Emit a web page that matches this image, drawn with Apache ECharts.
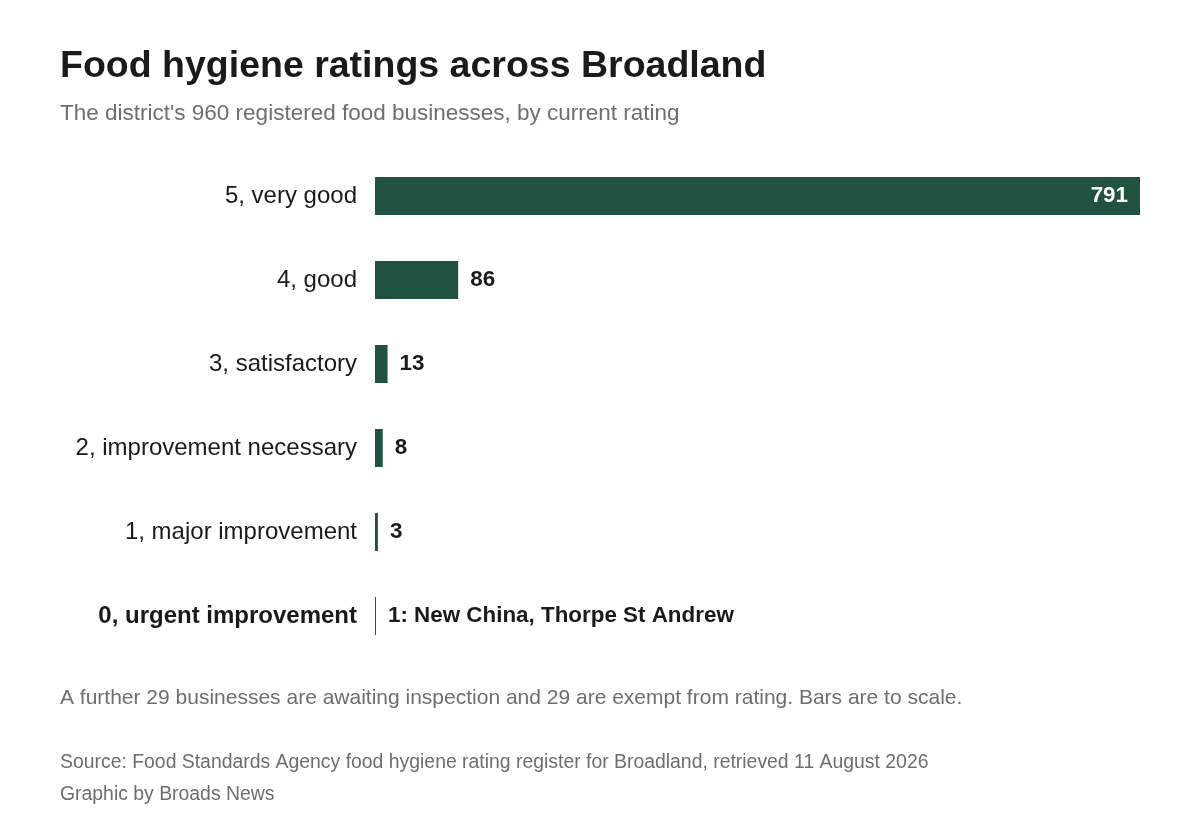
<!DOCTYPE html>
<html>
<head>
<meta charset="utf-8">
<script src="https://cdn.jsdelivr.net/npm/echarts@6/dist/echarts.min.js"></script>
<style>
  html, body { margin: 0; padding: 0; background: #fff; }
  #chart { width: 1200px; height: 840px; }
</style>
</head>
<body>
<div id="chart"></div>
<script>
// ratings, top to bottom
const ratings = ['5, very good', '4, good', '3, satisfactory', '2, improvement necessary', '1, major improvement', '0, urgent improvement'];
const counts = [791, 86, 13, 8, 3, 1];
const valueLabels = ['791', '86', '13', '8', '3', '1: New China, Thorpe St Andrew'];

const FONT = '"Liberation Sans", Arial, sans-serif';
const GREEN = '#215240';
const GREY = '#6b6e73';

const chart = echarts.init(document.getElementById('chart'));

function note(text, top, size) {
  return {
    text: text,
    left: 60, top: top, padding: 0,
    textStyle: { fontFamily: FONT, fontSize: size, fontWeight: 'normal', color: GREY }
  };
}

chart.setOption({
  backgroundColor: '#fff',
  textStyle: { fontFamily: FONT },
  title: [
    {
      text: 'Food hygiene ratings across Broadland',
      left: 60, top: 48, padding: 0,
      textStyle: { fontFamily: FONT, fontSize: 37.5, fontWeight: 'bold', color: '#1a1a1a' }
    },
    note("The district's 960 registered food businesses, by current rating", 102, 22.5),
    note('A further 29 businesses are awaiting inspection and 29 are exempt from rating. Bars are to scale.', 688, 21),
    note('Source: Food Standards Agency food hygiene rating register for Broadland, retrieved 11 August 2026', 753, 19.4),
    note('Graphic by Broads News', 785, 19.4)
  ],
  grid: { left: 375, right: 60, top: 154, height: 504 },
  xAxis: {
    type: 'value',
    min: 0,
    max: 791,
    show: false
  },
  yAxis: {
    type: 'category',
    inverse: true,
    data: ratings,
    axisLine: { show: false },
    axisTick: { show: false },
    splitLine: { show: false },
    axisLabel: {
      margin: 18,
      fontFamily: FONT,
      fontSize: 24,
      color: '#1a1a1a',
      formatter: function (v, i) {
        return i === ratings.length - 1 ? '{b|' + v + '}' : v;
      },
      rich: {
        b: { fontFamily: FONT, fontSize: 24, fontWeight: 'bold', color: '#1a1a1a' }
      }
    }
  },
  series: [
    {
      type: 'bar',
      barWidth: 38,
      silent: true,
      itemStyle: { color: GREEN },
      data: counts.map(function (c, i) {
        const inside = i === 0;
        return {
          value: c,
          label: {
            show: true,
            position: inside ? 'insideRight' : 'right',
            distance: 12,
            color: inside ? '#fff' : '#1a1a1a',
            fontFamily: FONT,
            fontSize: 22.4,
            fontWeight: 'bold',
            formatter: valueLabels[i]
          }
        };
      })
    }
  ]
});
</script>
</body>
</html>
